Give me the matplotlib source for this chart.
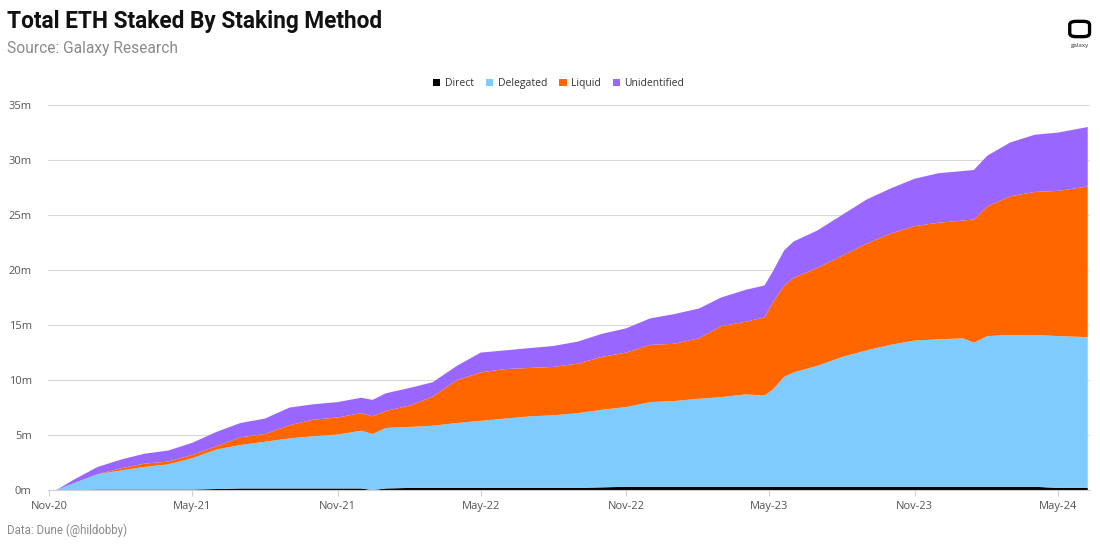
import pandas as pd
import matplotlib.pyplot as plt
import matplotlib.dates as mdates
from matplotlib.patches import FancyBboxPatch
from matplotlib.ticker import FuncFormatter

dates = pd.to_datetime([
    "2020-11-10", "2020-12-01", "2021-01-01", "2021-02-01", "2021-03-01", "2021-04-01",
    "2021-05-01", "2021-06-01", "2021-07-01", "2021-08-01", "2021-09-01", "2021-10-01",
    "2021-11-01", "2021-12-01", "2021-12-15", "2022-01-01", "2022-02-01", "2022-03-01",
    "2022-04-01", "2022-05-01", "2022-06-01", "2022-07-01", "2022-08-01", "2022-09-01",
    "2022-10-01", "2022-11-01", "2022-12-01", "2023-01-01", "2023-02-01", "2023-03-01",
    "2023-04-01", "2023-04-25", "2023-05-05", "2023-05-20", "2023-06-01", "2023-07-01",
    "2023-08-01", "2023-09-01", "2023-10-01", "2023-11-01", "2023-12-01", "2024-01-01",
    "2024-01-15", "2024-02-01", "2024-03-01", "2024-04-01", "2024-05-01", "2024-06-07",
])

# millions of ETH
direct = [0, 0, 0.05, 0.05, 0.05, 0.05, 0.05, 0.1, 0.15, 0.15, 0.15, 0.15,
          0.15, 0.15, 0.0, 0.15, 0.2, 0.2, 0.2, 0.2, 0.2, 0.2, 0.2, 0.2,
          0.25, 0.3, 0.3, 0.3, 0.3, 0.3, 0.3, 0.3, 0.3, 0.3, 0.3, 0.3,
          0.3, 0.3, 0.3, 0.3, 0.3, 0.3, 0.3, 0.3, 0.3, 0.3, 0.2, 0.2]
delegated = [0, 0.6, 1.4, 1.75, 2.05, 2.3, 2.85, 3.6, 3.95, 4.25, 4.55, 4.75,
             4.9, 5.25, 5.1, 5.5, 5.55, 5.65, 5.9, 6.1, 6.3, 6.5, 6.6, 6.8,
             7.05, 7.25, 7.7, 7.8, 8.0, 8.15, 8.4, 8.3, 8.8, 10.0, 10.4, 11.0,
             11.8, 12.4, 12.9, 13.3, 13.4, 13.5, 13.1, 13.7, 13.8, 13.8, 13.8, 13.7]
liquid = [0, 0, 0, 0.2, 0.3, 0.25, 0.3, 0.3, 0.7, 0.7, 1.2, 1.5,
          1.55, 1.6, 1.6, 1.55, 1.95, 2.65, 3.9, 4.4, 4.5, 4.4, 4.4, 4.5,
          4.8, 4.95, 5.2, 5.2, 5.5, 6.45, 6.6, 7.1, 7.9, 8.3, 8.6, 8.9,
          9.2, 9.7, 10.1, 10.4, 10.6, 10.7, 11.2, 11.8, 12.6, 13.0, 13.2, 13.7]
unidentified = [0, 0.3, 0.65, 0.8, 0.9, 1.0, 1.1, 1.3, 1.3, 1.4, 1.6, 1.4,
                1.4, 1.4, 1.5, 1.6, 1.6, 1.3, 1.3, 1.8, 1.7, 1.8, 1.9, 2.0,
                2.1, 2.2, 2.4, 2.7, 2.7, 2.6, 2.9, 2.9, 2.8, 3.2, 3.3, 3.4,
                3.7, 4.0, 4.1, 4.3, 4.5, 4.5, 4.5, 4.6, 4.9, 5.2, 5.3, 5.4]

labels = ["Direct", "Delegated", "Liquid", "Unidentified"]
colors = ["#000000", "#7ecbfc", "#ff6600", "#9966ff"]

plt.rcParams['font.family'] = ['Open Sans', 'DejaVu Sans']

fig = plt.figure(figsize=(11, 5.47), dpi=100)
ax = fig.add_axes([0.044, 0.104, 0.947, 0.704])

ax.stackplot(dates, direct, delegated, liquid, unidentified,
             labels=labels, colors=colors, linewidth=0)

ax.set_ylim(0, 35)
ax.set_xlim(pd.Timestamp("2020-10-31"), pd.Timestamp("2024-06-10"))
ax.yaxis.set_major_formatter(FuncFormatter(lambda v, p: f"{v:.0f}m"))
ax.set_yticks(range(0, 36, 5))
ax.grid(axis="y", color="#d9d9d9", linewidth=0.8)
ax.set_axisbelow(True)

ax.xaxis.set_major_locator(mdates.MonthLocator(bymonth=[5, 11]))
ax.xaxis.set_major_formatter(mdates.DateFormatter("%b-%y"))
ax.tick_params(axis="x", colors="#d0d0d0", labelcolor="#555555", labelsize=8, length=4)
ax.tick_params(axis="y", length=0, labelcolor="#555555", labelsize=8, pad=12)

for s in ["top", "right", "left"]:
    ax.spines[s].set_visible(False)
ax.spines["bottom"].set_color("#d0d0d0")

ax.legend(loc="upper center", bbox_to_anchor=(0.49, 1.095), ncol=4, frameon=False,
          fontsize=7.5, handlelength=0.7, handleheight=0.7, handletextpad=0.4,
          columnspacing=1.2, labelcolor="#333333")

head = ["Roboto", "DejaVu Sans"]
fig.text(0.006, 0.96, "Total ETH Staked By Staking Method", fontsize=16.3,
         fontweight="bold", family=head, color="#111111", va="center")
fig.text(0.006, 0.912, "Source: Galaxy Research", fontsize=11.2,
         family=head, color="#8a8a8a", va="center")
fig.text(0.006, 0.03, "Data: Dune (@hildobby)", fontsize=8.3,
         family=head, color="#8a8a8a", va="center")

# galaxy logo
fig.patches.append(FancyBboxPatch((0.9745, 0.935), 0.014, 0.024,
                                  boxstyle="round,pad=0.002,rounding_size=0.006",
                                  transform=fig.transFigure, fill=False,
                                  edgecolor="black", linewidth=2.4))
fig.text(0.9815, 0.916, "galaxy", fontsize=4.5, ha="center", va="center", color="#333333")

fig.savefig("out.png", dpi=100)
